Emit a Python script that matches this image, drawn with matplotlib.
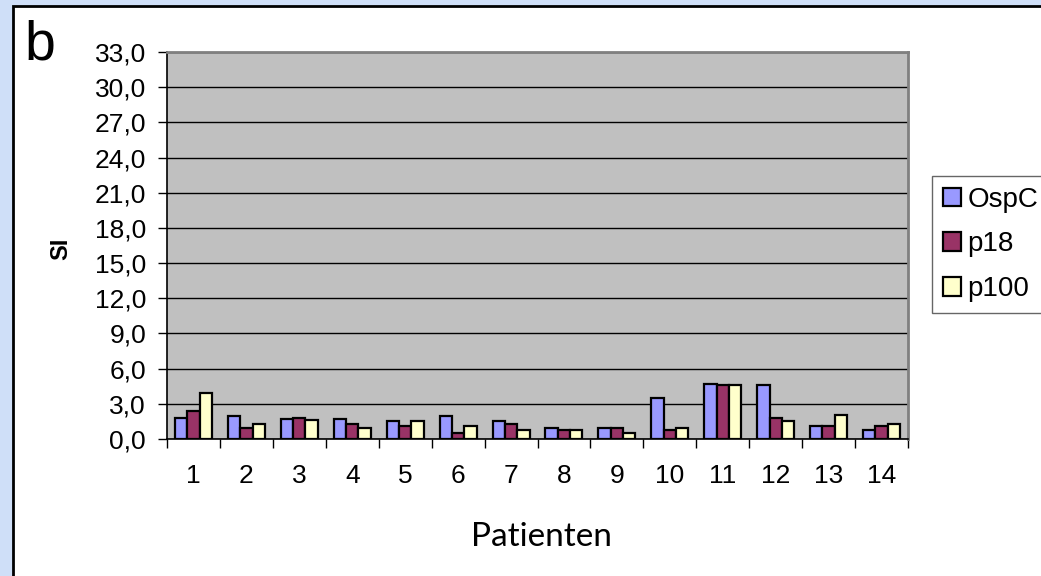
import matplotlib
matplotlib.use("Agg")
import matplotlib.pyplot as plt
import numpy as np
from matplotlib.patches import Rectangle

patients = ["1", "2", "3", "4", "5", "6", "7", "8", "9", "10", "11", "12", "13", "14"]
ospc = [1.8, 2.0, 1.7, 1.7, 1.5, 2.0, 1.5, 0.9, 0.9, 3.5, 4.7, 4.6, 1.1, 0.75]
p18 = [2.4, 0.9, 1.8, 1.3, 1.1, 0.5, 1.3, 0.75, 0.9, 0.75, 4.6, 1.8, 1.1, 1.1]
p100 = [3.9, 1.3, 1.65, 0.9, 1.5, 1.1, 0.75, 0.75, 0.55, 0.9, 4.6, 1.5, 2.05, 1.3]
series_names = ["OspC", "p18", "p100"]
colors = ["#9999FF", "#993366", "#FFFFCC"]
yticks = np.arange(0, 33.1, 3.0)

plt.rcParams['font.family'] = ['Liberation Sans', 'DejaVu Sans']

fig = plt.figure(figsize=(10.41, 5.76), dpi=100)
fig.patch.set_facecolor("#CFDFF8")
# white panel with black border
fig.patches.append(Rectangle((13 / 1041, -0.05), 1.1, (576 - 6) / 576 + 0.05,
                             transform=fig.transFigure, facecolor="white",
                             edgecolor="black", linewidth=2.0, zorder=-10))

ax = fig.add_axes([167 / 1041, (576 - 439) / 576, (908 - 167) / 1041, (439 - 52) / 576])
ax.set_zorder(5)
ax.set_facecolor("#C0C0C0")

x = np.arange(len(patients))
w = 0.233
for i, (vals, name, c) in enumerate(zip([ospc, p18, p100], series_names, colors)):
    ax.bar(x + (i - 1) * w, vals, width=w, color=c, edgecolor="black",
           linewidth=1.6, label=name, zorder=3)

ax.set_xlim(-0.5, len(patients) - 0.5)
ax.set_ylim(0, 33)
ax.set_yticks(yticks)
ax.set_yticklabels([f"{v:.1f}".replace(".", ",") for v in yticks], fontsize=19)
ax.yaxis.grid(True, color="black", linewidth=1.0, zorder=1)
ax.set_axisbelow(True)

ax.set_xticks(x)
ax.set_xticklabels(patients, fontsize=19)
ax.set_xticks(np.arange(-0.5, len(patients), 1.0), minor=True)
ax.tick_params(axis="x", which="major", length=0, pad=18)
ax.tick_params(axis="x", which="minor", length=6.5, width=1.0, direction="out", color="black")
ax.tick_params(axis="y", length=6.5, width=1.0, direction="out", color="black", pad=8.6)

for s in ["top", "right"]:
    ax.spines[s].set_color("#808080")
    ax.spines[s].set_linewidth(2.0)
for s in ["left", "bottom"]:
    ax.spines[s].set_color("black")
    ax.spines[s].set_linewidth(1.2)

fig.text(541 / 1041, 1 - 537 / 576, "Patienten", fontsize=24, fontweight="normal",
         family=["Lato", "Liberation Sans"], ha="center", va="center", color="black")
fig.text(61 / 1041, 1 - 249 / 576, "SI", rotation=90, fontsize=17, fontweight="bold",
         ha="center", va="center")
fig.text(40 / 1041, 1 - 46 / 576, "b", fontsize=40, ha="center", va="center")

leg = ax.legend(loc="upper left", bbox_to_anchor=(932 / 1041, 1 - 176 / 576),
                bbox_transform=fig.transFigure, fontsize=20, frameon=True,
                fancybox=False, edgecolor="#404040", handlelength=0.65,
                handleheight=0.65, handletextpad=0.25, labelspacing=0.68,
                borderpad=0.38, borderaxespad=0)
leg.get_frame().set_linewidth(1.0)

fig.savefig("out.png", dpi=100, facecolor=fig.get_facecolor())
